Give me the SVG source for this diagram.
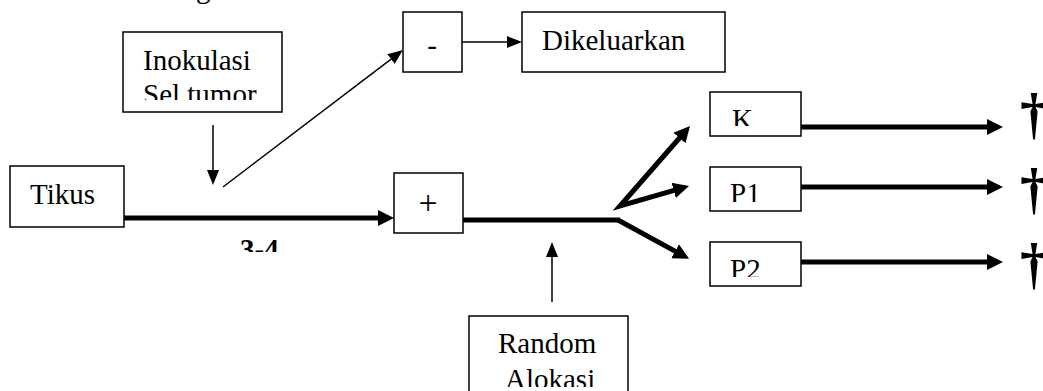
<svg xmlns="http://www.w3.org/2000/svg" width="1043" height="391" viewBox="0 0 1043 391">
<style>
  .box{fill:#fff;stroke:#000;stroke-width:1.5}
  .t{font-family:"Liberation Serif","Times New Roman",serif;font-size:29px;fill:#000}
  .b{font-weight:bold}
  .thin{stroke:#000;stroke-width:1.5;fill:none;marker-end:url(#hs)}
  .thick{stroke:#000;stroke-width:5;fill:none;marker-end:url(#hl);stroke-linejoin:miter}
  .dag{font-family:"Liberation Serif","Times New Roman",serif;font-size:56px;font-weight:bold;fill:#000}
</style>
<defs>
  <marker id="hs" markerUnits="userSpaceOnUse" orient="auto" markerWidth="16" markerHeight="14" viewBox="0 -7 16 14" refX="3" refY="0">
    <path d="M0,-6 L15,0 L0,6 z" fill="#000"/>
  </marker>
  <marker id="hl" markerUnits="userSpaceOnUse" orient="auto-start-reverse" markerWidth="17" markerHeight="18" viewBox="0 -9 17 18" refX="4" refY="0">
    <path d="M0,-8 L16,0 L0,8 z" fill="#000"/>
  </marker>
  <clipPath id="cSel"><rect x="0" y="0" width="1043" height="100"/></clipPath>
  <clipPath id="c34"><rect x="0" y="0" width="1043" height="252"/></clipPath>
  <clipPath id="cK"><rect x="0" y="0" width="1043" height="126"/></clipPath>
  <clipPath id="cP1"><rect x="0" y="0" width="1043" height="202"/></clipPath>
  <clipPath id="cP2"><rect x="0" y="0" width="1043" height="277"/></clipPath>
  <clipPath id="cAl"><rect x="0" y="0" width="1043" height="387"/></clipPath>
</defs>

<text class="t" x="196" y="-2">g</text>

<g id="connectors">
  <line class="thin" x1="213" y1="125" x2="213" y2="173"/>
  <line class="thin" x1="223" y1="187" x2="393.4" y2="57.3"/>
  <line class="thin" x1="462" y1="42" x2="510" y2="42"/>
  <line class="thin" x1="552" y1="302" x2="552" y2="254"/>
  <line class="thick" x1="124" y1="218" x2="382" y2="218"/>
  <line x1="463" y1="220" x2="620" y2="220" stroke="#000" stroke-width="5"/>
  <path class="thick" d="M682.1,135 L620,206 L677.5,189.3" style="marker-start:url(#hl)"/>
  <path class="thick" d="M618,220 L678.6,253.1"/>
  <line class="thick" x1="801" y1="127" x2="991" y2="127"/>
  <line class="thick" x1="801" y1="187" x2="991" y2="187"/>
  <line class="thick" x1="801" y1="262" x2="991" y2="262"/>
</g>

<g id="inokulasi">
  <rect class="box" x="123" y="32" width="159" height="80"/>
  <text class="t" x="143" y="70">Inokulasi</text>
  <text class="t" x="143" y="104" clip-path="url(#cSel)">Sel tumor</text>
</g>
<g id="minus">
  <rect class="box" x="403" y="12" width="59" height="60"/>
  <text class="t" x="432" y="55" text-anchor="middle">-</text>
</g>
<g id="dikeluarkan">
  <rect class="box" x="522" y="12" width="203" height="60"/>
  <text class="t" x="542" y="50">Dikeluarkan</text>
</g>
<g id="tikus">
  <rect class="box" x="10" y="166" width="114" height="61"/>
  <text class="t" x="30" y="204">Tikus</text>
</g>
<g id="label34">
  <text class="t b" x="240" y="259" clip-path="url(#c34)">3-4</text>
</g>
<g id="plus">
  <rect class="box" x="394" y="173" width="69" height="60"/>
  <text class="t" x="428" y="214" text-anchor="middle" style="font-size:34px">+</text>
</g>
<g id="random">
  <rect class="box" x="469" y="316" width="159" height="90"/>
  <text class="t" x="498" y="353">Random</text>
  <text class="t" x="505" y="389" clip-path="url(#cAl)">Alokasi</text>
</g>
<g id="k">
  <rect class="box" x="710" y="92" width="91" height="44"/>
  <text class="t" x="732" y="129" clip-path="url(#cK)">K</text>
</g>
<g id="p1">
  <rect class="box" x="710" y="167" width="91" height="44"/>
  <text class="t" x="730" y="203" clip-path="url(#cP1)">P1</text>
</g>
<g id="p2">
  <rect class="box" x="710" y="242" width="91" height="44"/>
  <text class="t" x="730" y="279" clip-path="url(#cP2)">P2</text>
</g>
<g id="daggers">
  <text class="dag" x="1034" y="133" text-anchor="middle">†</text>
  <text class="dag" x="1034" y="208" text-anchor="middle">†</text>
  <text class="dag" x="1034" y="283" text-anchor="middle">†</text>
</g>
</svg>
